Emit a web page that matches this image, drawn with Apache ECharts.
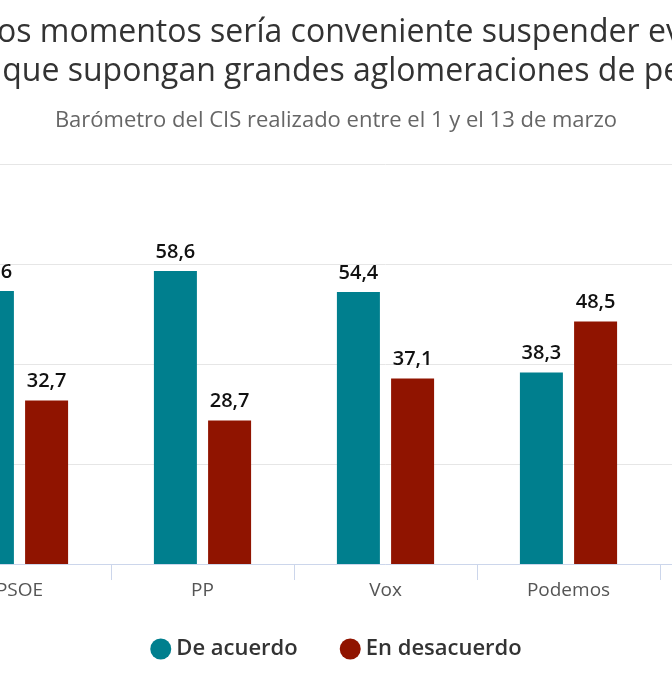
<!DOCTYPE html>
<html>
<head>
<meta charset="utf-8">
<script src="https://cdn.jsdelivr.net/npm/echarts@6/dist/echarts.min.js"></script>
<style>
	html, body { margin: 0; padding: 0; background: #fff; overflow: hidden; }
	#chart { position: absolute; left: -300px; top: 0; width: 1272px; height: 700px; }
</style>
</head>
<body>
<div id="chart"></div>
<script>
// categorias (la ultima queda fuera del recorte)
var categories = ['PSOE', 'PP', 'Vox', 'Podemos', 'Cs'];
var deAcuerdo = [54.6, 58.6, 54.4, 38.3, null];
var enDesacuerdo = [32.7, 28.7, 37.1, 48.5, null];
var yTicks = [0, 20, 40, 60, 80];

window.onload = function() {
	var chart = echarts.init(document.getElementById('chart'));

	/* etiqueta con coma decimal */
	function fmt(p) {
		return p.value == null ? '' : String(p.value).replace('.', ',');
	}

	var labelStyle = {
		show: true,
		position: 'top',
		distance: 9,
		formatter: fmt,
		color: '#111',
		fontSize: 20,
		fontWeight: 600,
		fontFamily: 'Open Sans'
	};

	var option = {
		animation: false,
		title: [{
			text: 'En estos momentos sería conveniente suspender eventos\ny actos que supongan grandes aglomeraciones de personas',
			left: 'center',
			top: 8,
			textStyle: {
				color: '#333',
				fontSize: 32,
				fontWeight: 'normal',
				lineHeight: 39,
				fontFamily: 'Open Sans',
				align: 'center'
			}
		}, {
			text: 'Barómetro del CIS realizado entre el 1 y el 13 de marzo',
			left: 'center',
			top: 105,
			textStyle: {
				color: '#666',
				fontSize: 22,
				fontWeight: 'normal',
				fontFamily: 'Open Sans'
			}
		}],
		legend: {
			left: 'center',
			top: 633,
			icon: 'circle',
			itemWidth: 21,
			itemHeight: 21,
			itemGap: 42,
			textStyle: {
				color: '#333',
				fontSize: 22,
				fontWeight: 600,
				fontFamily: 'Open Sans'
			},
			data: ['De acuerdo', 'En desacuerdo']
		},
		grid: {
			left: 228,
			right: 129,
			top: 164,
			bottom: 136
		},
		xAxis: {
			type: 'category',
			data: categories,
			axisLine: { lineStyle: { color: '#ccd6eb', width: 1 } },
			axisTick: { show: true, length: 16, lineStyle: { color: '#ccd6eb' } },
			axisLabel: {
				color: '#555',
				fontSize: 19,
				margin: 17,
				fontFamily: 'Open Sans'
			}
		},
		yAxis: {
			type: 'value',
			min: yTicks[0],
			max: yTicks[yTicks.length - 1],
			interval: 20,
			axisLabel: { show: false },
			axisLine: { show: false },
			axisTick: { show: false },
			splitLine: { lineStyle: { color: '#e6e6e6', width: 1 } }
		},
		series: [{
			name: 'De acuerdo',
			type: 'bar',
			data: deAcuerdo,
			barWidth: 43,
			barGap: '26%',
			itemStyle: { color: '#007f8e' },
			label: labelStyle
		}, {
			name: 'En desacuerdo',
			type: 'bar',
			data: enDesacuerdo,
			barWidth: 43,
			barGap: '26%',
			itemStyle: { color: '#901400' },
			label: labelStyle
		}]
	};
	chart.setOption(option);
};
</script>
</body>
</html>
